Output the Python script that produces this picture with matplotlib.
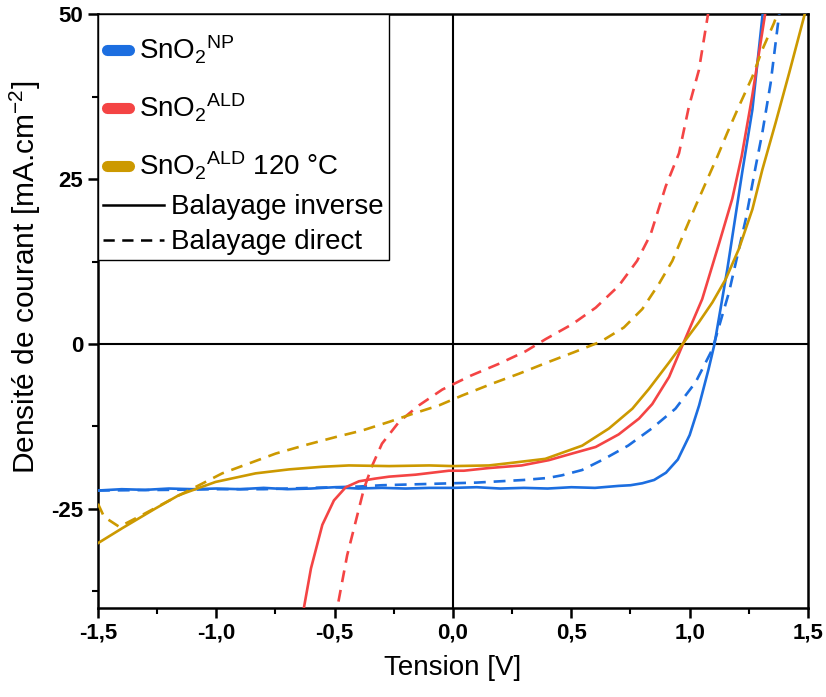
import matplotlib
matplotlib.use('Agg')
import matplotlib.pyplot as plt
from matplotlib.lines import Line2D
from matplotlib.patches import Rectangle
from matplotlib.ticker import MultipleLocator, FuncFormatter

# J-V curves
np_rev_v = [-1.5, -1.4, -1.3, -1.2, -1.1, -1.0, -0.9, -0.8, -0.7, -0.6, -0.5, -0.4,
            -0.3, -0.2, -0.1, 0.0, 0.1, 0.2, 0.3, 0.4, 0.5, 0.6, 0.7, 0.75, 0.8,
            0.85, 0.9, 0.95, 1.0, 1.04, 1.08, 1.105, 1.159, 1.222, 1.265, 1.31]
np_rev_j = [-22.2, -22.0, -22.1, -21.9, -22.0, -21.9, -22.0, -21.8, -22.0, -21.9,
            -21.7, -21.9, -21.8, -21.9, -21.8, -21.8, -21.7, -21.9, -21.8, -21.9,
            -21.7, -21.8, -21.5, -21.4, -21.1, -20.6, -19.5, -17.5, -13.8, -9.3,
            -3.8, 0.0, 11.3, 26.0, 35.5, 50.5]

np_fwd_v = [-1.5, -1.2, -1.0, -0.8, -0.6, -0.4, -0.3, -0.2, -0.1, 0.0, 0.1, 0.2,
            0.3, 0.4, 0.46, 0.545, 0.64, 0.74, 0.84, 0.94, 1.025, 1.096, 1.166,
            1.237, 1.279, 1.307, 1.342, 1.38]
np_fwd_j = [-22.2, -22.1, -22.0, -22.0, -21.8, -21.6, -21.4, -21.3, -21.2, -21.1,
            -21.0, -20.8, -20.6, -20.3, -19.9, -19.1, -17.4, -15.4, -12.8, -9.8,
            -5.8, -0.8, 7.8, 18.9, 26.9, 32.0, 39.5, 50.5]

ald_rev_v = [-0.64, -0.63, -0.60, -0.552, -0.503, -0.453, -0.397, -0.33, -0.27,
             -0.158, -0.017, 0.046, 0.15, 0.29, 0.405, 0.503, 0.603, 0.70, 0.786,
             0.842, 0.913, 0.969, 1.053, 1.124, 1.18, 1.22, 1.264, 1.321]
ald_rev_j = [-42.0, -40.0, -34.0, -27.4, -23.7, -21.7, -20.8, -20.4, -20.1, -19.8,
             -19.2, -19.2, -18.8, -18.4, -17.6, -16.6, -15.6, -13.7, -11.3, -9.1,
             -5.0, -0.25, 6.8, 15.2, 22.0, 28.5, 37.5, 50.5]

ald_fwd_v = [-0.495, -0.489, -0.447, -0.411, -0.376, -0.341, -0.30, -0.228, -0.144,
             -0.045, 0.075, 0.194, 0.307, 0.392, 0.504, 0.603, 0.70, 0.778, 0.835,
             0.899, 0.955, 0.997, 1.039, 1.08]
ald_fwd_j = [-42.0, -40.0, -32.0, -26.9, -21.9, -18.4, -15.1, -11.8, -9.3, -6.9,
             -4.8, -3.0, -1.1, 0.75, 3.0, 5.5, 8.8, 12.6, 16.6, 23.9, 28.9, 36.0,
             41.5, 50.5]

ald120_rev_v = [-1.51, -1.397, -1.256, -1.158, -1.003, -0.834, -0.693, -0.552,
                -0.44, -0.27, -0.1, 0.0, 0.152, 0.25, 0.39, 0.546, 0.659, 0.758,
                0.828, 0.913, 0.965, 1.039, 1.096, 1.152, 1.208, 1.265, 1.307,
                1.363, 1.42, 1.49]
ald120_rev_j = [-30.4, -27.9, -24.9, -22.9, -20.9, -19.6, -19.0, -18.6, -18.4,
                -18.5, -18.4, -18.5, -18.4, -18.0, -17.4, -15.4, -12.8, -9.8,
                -6.8, -2.8, -0.25, 3.3, 6.3, 9.8, 14.4, 20.4, 26.4, 33.5, 41.0,
                50.5]

ald120_fwd_v = [-1.5, -1.474, -1.41, -1.313, -1.172, -1.073, -0.975, -0.862,
                -0.749, -0.622, -0.496, -0.383, -0.27, -0.172, -0.059, 0.039,
                0.166, 0.279, 0.398, 0.511, 0.624, 0.722, 0.80, 0.87, 0.927,
                0.976, 1.025, 1.074, 1.117, 1.159, 1.208, 1.265, 1.307, 1.356,
                1.37]
ald120_fwd_j = [-24.2, -26.2, -27.7, -25.9, -23.2, -21.4, -19.6, -18.1, -16.6,
                -15.3, -14.1, -13.1, -11.8, -10.6, -9.3, -7.8, -6.0, -4.5, -2.8,
                -1.25, 0.35, 2.5, 5.3, 9.1, 12.6, 16.8, 20.9, 24.9, 28.4, 32.0,
                36.0, 40.5, 44.6, 48.6, 50.0]

BLUE = '#1C6EE0'
RED = '#F44444'
GOLD = '#CC9900'
SAMPLE_LABELS = ['SnO$_2$$^{\\mathrm{NP}}$', 'SnO$_2$$^{\\mathrm{ALD}}$',
                 'SnO$_2$$^{\\mathrm{ALD}}$ 120 °C']
SCAN_LABELS = ['Balayage inverse', 'Balayage direct']

plt.rcParams['font.family'] = ['Liberation Sans', 'DejaVu Sans']
plt.rcParams['mathtext.fontset'] = 'custom'
plt.rcParams['mathtext.rm'] = 'Liberation Sans'
plt.rcParams['mathtext.it'] = 'Liberation Sans:italic'
plt.rcParams['mathtext.bf'] = 'Liberation Sans:bold'

LEGSIZE = 20

fig = plt.figure(figsize=(8.26, 6.97), dpi=100)
ax = fig.add_axes([0.1186, 0.1277, 0.8596, 0.8522])

ax.axhline(0, color='black', lw=1.5, zorder=1)
ax.axvline(0, color='black', lw=1.5, zorder=1)

lw = 1.9
dash = (4.5, 3)
ax.plot(np_rev_v, np_rev_j, color=BLUE, lw=lw, zorder=3)
ax.plot(np_fwd_v, np_fwd_j, color=BLUE, lw=lw, dashes=dash, zorder=3)
ax.plot(ald_rev_v, ald_rev_j, color=RED, lw=lw, zorder=3)
ax.plot(ald_fwd_v, ald_fwd_j, color=RED, lw=lw, dashes=dash, zorder=3)
ax.plot(ald120_rev_v, ald120_rev_j, color=GOLD, lw=lw, zorder=3)
ax.plot(ald120_fwd_v, ald120_fwd_j, color=GOLD, lw=lw, dashes=dash, zorder=3)

ax.set_xlim(-1.5, 1.5)
ax.set_ylim(-40, 50)
ax.xaxis.set_major_locator(MultipleLocator(0.5))
ax.xaxis.set_minor_locator(MultipleLocator(0.25))
ax.yaxis.set_major_locator(MultipleLocator(25))
ax.yaxis.set_minor_locator(MultipleLocator(12.5))
ax.xaxis.set_major_formatter(FuncFormatter(lambda v, p: f'{v:.1f}'.replace('.', ',')))
ax.yaxis.set_major_formatter(FuncFormatter(lambda v, p: f'{v:.0f}'))
ax.tick_params(which='major', direction='out', length=7, width=1.8)
ax.tick_params(which='minor', direction='out', length=4, width=1.5)
for lab in ax.get_xticklabels() + ax.get_yticklabels():
    lab.set_fontweight('bold')
    lab.set_fontsize(16)
for s in ax.spines.values():
    s.set_linewidth(1.8)

ax.set_xlabel('Tension [V]', fontsize=20, labelpad=8)
ax.set_ylabel('Densité de courant [mA.cm$^{-2}$]', fontsize=21.5)
ax.yaxis.set_label_coords(-0.078, 0.557)

# legend: colour entries on top, scan direction below, one frame round both
color_handles = [Line2D([], [], color=c, lw=8, solid_capstyle='round')
                 for c in (BLUE, RED, GOLD)]
scan_handles = [Line2D([], [], color='black', lw=1.8),
                Line2D([], [], color='black', lw=1.8, dashes=dash)]

leg1 = ax.legend(color_handles, SAMPLE_LABELS, loc='upper left',
                 bbox_to_anchor=(0, 1 - 11 / 594), borderaxespad=0, frameon=False,
                 fontsize=LEGSIZE, handlelength=0.8, handletextpad=0.35,
                 labelspacing=0.93, borderpad=0.32)
leg1.set_zorder(6)
ax.add_artist(leg1)
fig.canvas.draw()
bb1 = leg1.get_window_extent().transformed(ax.transAxes.inverted())

leg2 = ax.legend(scan_handles, SCAN_LABELS, loc='upper left',
                 bbox_to_anchor=(0, bb1.y0 + 2 / 594), borderaxespad=0,
                 frameon=False, fontsize=LEGSIZE, handlelength=2.2,
                 handletextpad=0.25, labelspacing=0.32, borderpad=0.18)
leg2.set_zorder(6)
fig.canvas.draw()
bb2 = leg2.get_window_extent().transformed(ax.transAxes.inverted())

x1 = max(bb1.x1, bb2.x1)
ax.add_patch(Rectangle((0, bb2.y0), x1, 1 - bb2.y0, transform=ax.transAxes,
                       facecolor='white', edgecolor='black', lw=1.0, zorder=5))

fig.savefig('out.png', dpi=100)
